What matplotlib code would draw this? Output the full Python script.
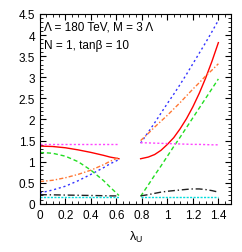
import matplotlib
matplotlib.use('Agg')
import matplotlib.pyplot as plt
from matplotlib.ticker import MultipleLocator

plt.rcParams['font.family'] = ['Liberation Sans', 'DejaVu Sans']

# lambda_U sample points, two branches
x_left = [0, 0.1, 0.2, 0.3, 0.4, 0.5, 0.55, 0.62]
x_right = [0.79, 0.85, 0.9, 0.95, 1.0, 1.05, 1.1, 1.15, 1.2, 1.25, 1.3, 1.35, 1.4]

red_left = [1.37, 1.36, 1.33, 1.28, 1.22, 1.15, 1.11, 1.07]
red_right = [1.07, 1.11, 1.17, 1.27, 1.41, 1.57, 1.78, 2.02, 2.30, 2.62, 2.98, 3.38, 3.82]
blue_left = [0.26, 0.33, 0.42, 0.55, 0.70, 0.86, 0.95, 1.05]
blue_right = [1.44, 1.70, 1.92, 2.15, 2.38, 2.60, 2.83, 3.07, 3.32, 3.57, 3.82, 4.08, 4.35]
orange_left = [0.53, 0.56, 0.62, 0.70, 0.80, 0.93, 1.01, 1.10]
orange_right = [1.50, 1.67, 1.82, 1.96, 2.10, 2.25, 2.40, 2.56, 2.72, 2.87, 3.03, 3.17, 3.32]
green_left = [1.22, 1.20, 1.13, 1.0, 0.80, 0.55, 0.40, 0.20]
green_right = [0.18, 0.45, 0.68, 0.90, 1.13, 1.36, 1.58, 1.81, 2.04, 2.27, 2.50, 2.73, 2.96]
magenta_left = [1.43] * 8
magenta_right = [1.45, 1.445, 1.44, 1.435, 1.43, 1.425, 1.42, 1.415, 1.41, 1.41, 1.405, 1.40, 1.40]
black_left = [0.22, 0.215, 0.21, 0.205, 0.20, 0.195, 0.19, 0.19]
black_right = [0.19, 0.22, 0.25, 0.28, 0.30, 0.315, 0.33, 0.345, 0.355, 0.355, 0.34, 0.315, 0.28]
cyan_left = [0.16] * 8
cyan_right = [0.16] * 13

fig = plt.figure(figsize=(2.42, 2.53), dpi=100)
ax = fig.add_axes([0.165, 0.19, 0.79, 0.751])

styles = [
    (red_left, red_right, dict(color='#ff0000', ls='-')),
    (blue_left, blue_right, dict(color='#3333ff', ls=(0, (1.5, 2)))),
    (orange_left, orange_right, dict(color='#ff7733', ls=(0, (3, 1.5, 1, 1.5)))),
    (green_left, green_right, dict(color='#22dd22', ls=(0, (3, 2)))),
    (magenta_left, magenta_right, dict(color='#ff44ff', ls=(0, (1.5, 1.5)))),
    (black_left, black_right, dict(color='#222222', ls=(0, (5, 2, 1, 2)))),
    (cyan_left, cyan_right, dict(color='#00dddd', ls=(0, (1.5, 1)))),
]
for yl, yr, st in styles:
    ax.plot(x_left, yl, lw=1, **st)
    ax.plot(x_right, yr, lw=1, **st)

ax.set_xlim(0, 1.5)
ax.set_ylim(0, 4.5)
ax.xaxis.set_minor_locator(MultipleLocator(0.05))
ax.yaxis.set_minor_locator(MultipleLocator(0.1))
ax.set_xticks([0, 0.2, 0.4, 0.6, 0.8, 1.0, 1.2, 1.4])
ax.set_xticklabels(['0', '0.2', '0.4', '0.6', '0.8', '1', '1.2', '1.4'])
ax.set_yticks([0, 0.5, 1, 1.5, 2, 2.5, 3, 3.5, 4, 4.5])
ax.set_yticklabels(['0', '0.5', '1', '1.5', '2', '2.5', '3', '3.5', '4', '4.5'])
ax.tick_params(which='both', direction='in', top=True, right=True, labelsize=8.5)
ax.tick_params(which='major', length=4)
ax.tick_params(which='minor', length=2)

ax.set_xlabel('\u03bb$_\\mathregular{U}$', fontsize=9, labelpad=6)
ax.text(0.02, 0.965, '\u039b = 180 TeV, M = 3 \u039b', transform=ax.transAxes,
        fontsize=8.5, va='top')
ax.text(0.02, 0.87, 'N = 1, tan\u03b2 = 10', transform=ax.transAxes,
        fontsize=8.5, va='top')

fig.savefig('out.png', dpi=100)
